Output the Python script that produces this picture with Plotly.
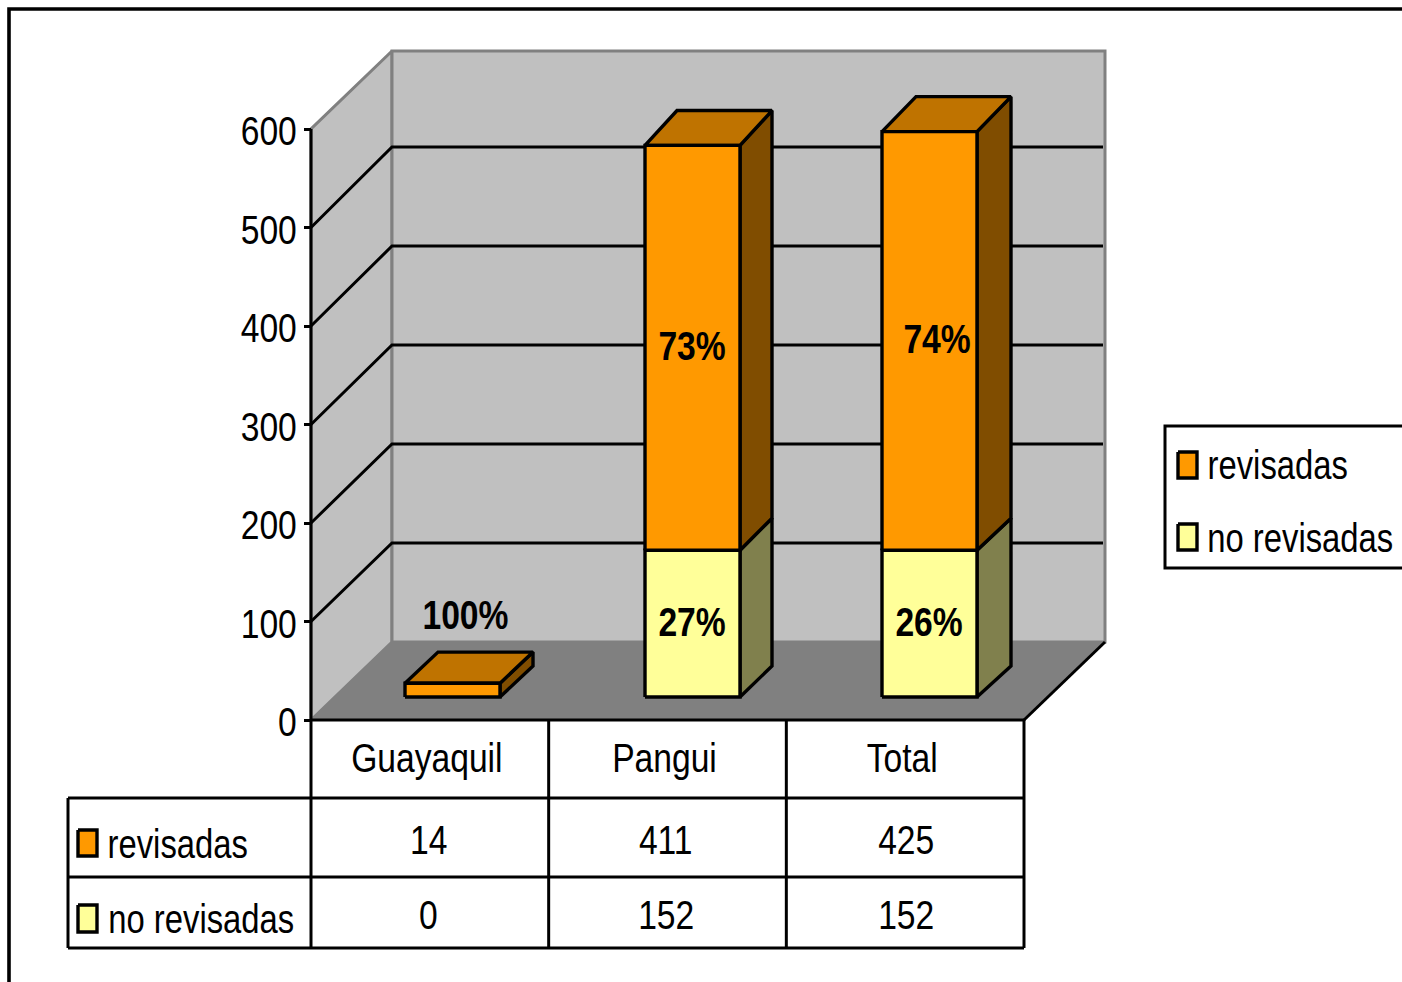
import plotly.graph_objects as go

# ---- data ----
categories = ["Guayaquil", "Pangui", "Total"]
revisadas = [14, 411, 425]            # table row
no_revisadas = [0, 152, 152]          # table row
bar_revisadas = [14, 411, 425]        # bar heights as drawn
bar_no_revisadas = [0, 149, 149]      # bar heights as drawn
pct_revisadas = ["100%", "73%", "74%"]
pct_no_revisadas = ["", "27%", "26%"]
y_ticks = [0, 100, 200, 300, 400, 500, 600]
series_names = ["revisadas", "no revisadas"]

# ---- styles and layout ----
W, H = 1402, 982
X0, X1, Y0, Y600 = 311, 1024, 720, 129
FONT = "Liberation Sans"
FS = 41
LW = 3.4
ORANGE, ORANGE_TOP, ORANGE_SIDE = "#FF9900", "#BF7300", "#804D00"
YELLOW, YELLOW_SIDE = "#FFFF99", "#80804D"
WALL, FLOOR, EDGE = "#C0C0C0", "#808080", "#808080"


def X(p):
    return (p - X0) * 3 / (X1 - X0)


def Y(p):
    return (Y0 - p) * 600 / (Y0 - Y600)


SCALE_Y = 600 / (Y0 - Y600)
SCALE_X = 3 / (X1 - X0)
WALL_DX, WALL_DY = 81 * SCALE_X, 78 * SCALE_Y
GRID_STRETCH = 1.005
BAR_LEFT_PX = [405, 645, 882]
BAR_DEPTH_PX = [33, 32, 34]
BAR_DY = 31 * SCALE_Y
BACK_STRETCH = 1.007
BAR_W = 95 * SCALE_X
FLOOR_V = Y(697)

fig = go.Figure()


def poly(xs, ys, fill=None, color="black", width=LW):
    fig.add_trace(go.Scatter(
        x=xs, y=ys, mode="lines", showlegend=False, hoverinfo="skip",
        fill="toself" if fill else "none", fillcolor=fill,
        line=dict(color=color, width=width, simplify=False),
    ))


def line(xs, ys, color="black", width=3):
    poly(xs, ys, None, color, width)


def back(v):
    return FLOOR_V + BAR_DY + (v - FLOOR_V) * BACK_STRETCH


top = y_ticks[-1]
# floor, walls
poly([0, 3, 3 + WALL_DX, WALL_DX, 0], [0, 0, WALL_DY, WALL_DY, 0], FLOOR, FLOOR, 1)
poly([0, WALL_DX, WALL_DX, 0, 0], [0, WALL_DY, top + WALL_DY, top, 0], WALL, EDGE, 3)
poly([WALL_DX, 3 + WALL_DX, 3 + WALL_DX, WALL_DX, WALL_DX],
     [WALL_DY, WALL_DY, top + WALL_DY, top + WALL_DY, WALL_DY], WALL, EDGE, 3)
line([3, 3 + WALL_DX], [0, WALL_DY])

# gridlines
for v in y_ticks[1:-1]:
    g = v * GRID_STRETCH + WALL_DY
    line([0, WALL_DX, 3 + WALL_DX - 2 * SCALE_X], [v, g, g])

# bars
for i, cat in enumerate(categories):
    l = X(BAR_LEFT_PX[i])
    r = l + BAR_W
    dx = BAR_DEPTH_PX[i] * SCALE_X
    b = FLOOR_V
    m = b + bar_no_revisadas[i]
    t = m + bar_revisadas[i]
    if bar_no_revisadas[i] > 0:
        poly([r, r + dx, r + dx, r, r], [b, back(b), back(m), m, b], YELLOW_SIDE)
        poly([l, r, r, l, l], [b, b, m, m, b], YELLOW)
    poly([r, r + dx, r + dx, r, r], [m, back(m), back(t), t, m], ORANGE_SIDE)
    poly([l, r, r + dx, l + dx, l], [t, t, back(t), back(t), t], ORANGE_TOP)
    poly([l, r, r, l, l], [m, m, t, t, m], ORANGE)

annotations = []


def text(x, y, s, bold=False):
    annotations.append(dict(
        x=x, y=y, xref="x", yref="y", text=f"<b>{s}</b>" if bold else s, showarrow=False,
        xanchor="center", yanchor="middle", font=dict(family=FONT, size=FS, color="black"),
    ))


# percent labels
PCT_UP = 2 * SCALE_Y
for i, (p_r, p_n) in enumerate(zip(pct_revisadas, pct_no_revisadas)):
    c = X(BAR_LEFT_PX[i]) + BAR_W / 2
    b = FLOOR_V
    m = b + bar_no_revisadas[i]
    t = m + bar_revisadas[i]
    if bar_no_revisadas[i] > 0:
        text(c - 1 * SCALE_X, (b + m) / 2 + PCT_UP, p_n, bold=True)
        shift = 7 * SCALE_X if i == 2 else -1 * SCALE_X
        text(c + shift, (m + t) / 2 + PCT_UP, p_r, bold=True)
    else:
        text(X(465), Y(615), p_r, bold=True)

# axis lines
line([0, 0], [0, top])
line([0, 3], [0, 0])

# data table
table_rows_px = [798, 877, 948]
table_cols = [0, 1, 2, 3]
for p in table_rows_px:
    line([X(68), 3], [Y(p), Y(p)])
line([X(68), X(68)], [Y(table_rows_px[0]), Y(table_rows_px[-1])])
for c in table_cols:
    line([c, c], [0, Y(table_rows_px[-1])])

row_text_px = [840, 915]
row_label_px = [844, 919]
row_label_center_px = [177.5, 201]
value_center_px = [428.5, 665.5, 905.5]
key_px = [(830, 856), (905, 932)]
key_colors = [ORANGE, YELLOW]
for row, (name, vals) in enumerate(zip(series_names, [revisadas, no_revisadas])):
    y0, y1 = key_px[row]
    poly([X(78), X(97), X(97), X(78), X(78)], [Y(y0), Y(y0), Y(y1), Y(y1), Y(y0)], key_colors[row])
    text(X(row_label_center_px[row]), Y(row_label_px[row]), name)
    for i, v in enumerate(vals):
        text(X(value_center_px[i]), Y(row_text_px[row]), str(v))

# legend box
line([X(W + 10), X(1165), X(1165), X(W + 10)], [Y(426), Y(426), Y(568), Y(568)])
legend_key_px = [(452, 478), (524, 550)]
legend_text_px = [465, 538]
legend_center_px = [1277, 1300]
for row, name in enumerate(series_names):
    y0, y1 = legend_key_px[row]
    poly([X(1178), X(1197), X(1197), X(1178), X(1178)], [Y(y0), Y(y0), Y(y1), Y(y1), Y(y0)], key_colors[row])
    text(X(legend_center_px[row]), Y(legend_text_px[row]), name)

# outer frame
line([X(W + 10), X(9), X(9)], [Y(9), Y(9), Y(H + 10)], width=3.6)

fig.update_layout(
    width=W, height=H, autosize=False, margin=dict(l=0, r=0, t=0, b=0),
    paper_bgcolor="white", plot_bgcolor="rgba(0,0,0,0)", showlegend=False,
    annotations=annotations,
    font=dict(family=FONT, size=FS, color="black"),
    xaxis=dict(
        domain=[0, 1], range=[X(0), X(W)], anchor="free", position=(H - Y0) / H, tickmode="array",
        tickvals=[0.5, 1.5, 2.5], ticktext=categories, ticks="", showgrid=False, zeroline=False,
        showline=False, ticklabelstandoff=10, ticklabelshift=-3,
        tickfont=dict(family=FONT, size=FS),
    ),
    yaxis=dict(
        domain=[0, 1], range=[Y(H), Y(0)], anchor="free", position=X0 / W, tickmode="array",
        tickvals=y_ticks, ticks="outside", ticklen=7, tickwidth=3, tickcolor="black",
        showgrid=False, zeroline=False, showline=False, ticklabelstandoff=-1, ticklabelshift=2,
        tickfont=dict(family=FONT, size=FS),
    ),
)

# The reference text is a condensed Arial: squeeze each text run horizontally.
POST = """
document.body.style.margin='0';document.body.style.overflow='hidden';
document.querySelectorAll('svg text').forEach(function(t){
  var n=t.getComputedTextLength();
  var f=t.textContent.indexOf('revisadas')>=0?0.80:0.82;
  if(n>0){t.setAttribute('textLength',(n*f).toFixed(2));t.setAttribute('lengthAdjust','spacingAndGlyphs');}
});
"""
fig.write_html("out.html", config={"displayModeBar": False}, post_script=POST)
